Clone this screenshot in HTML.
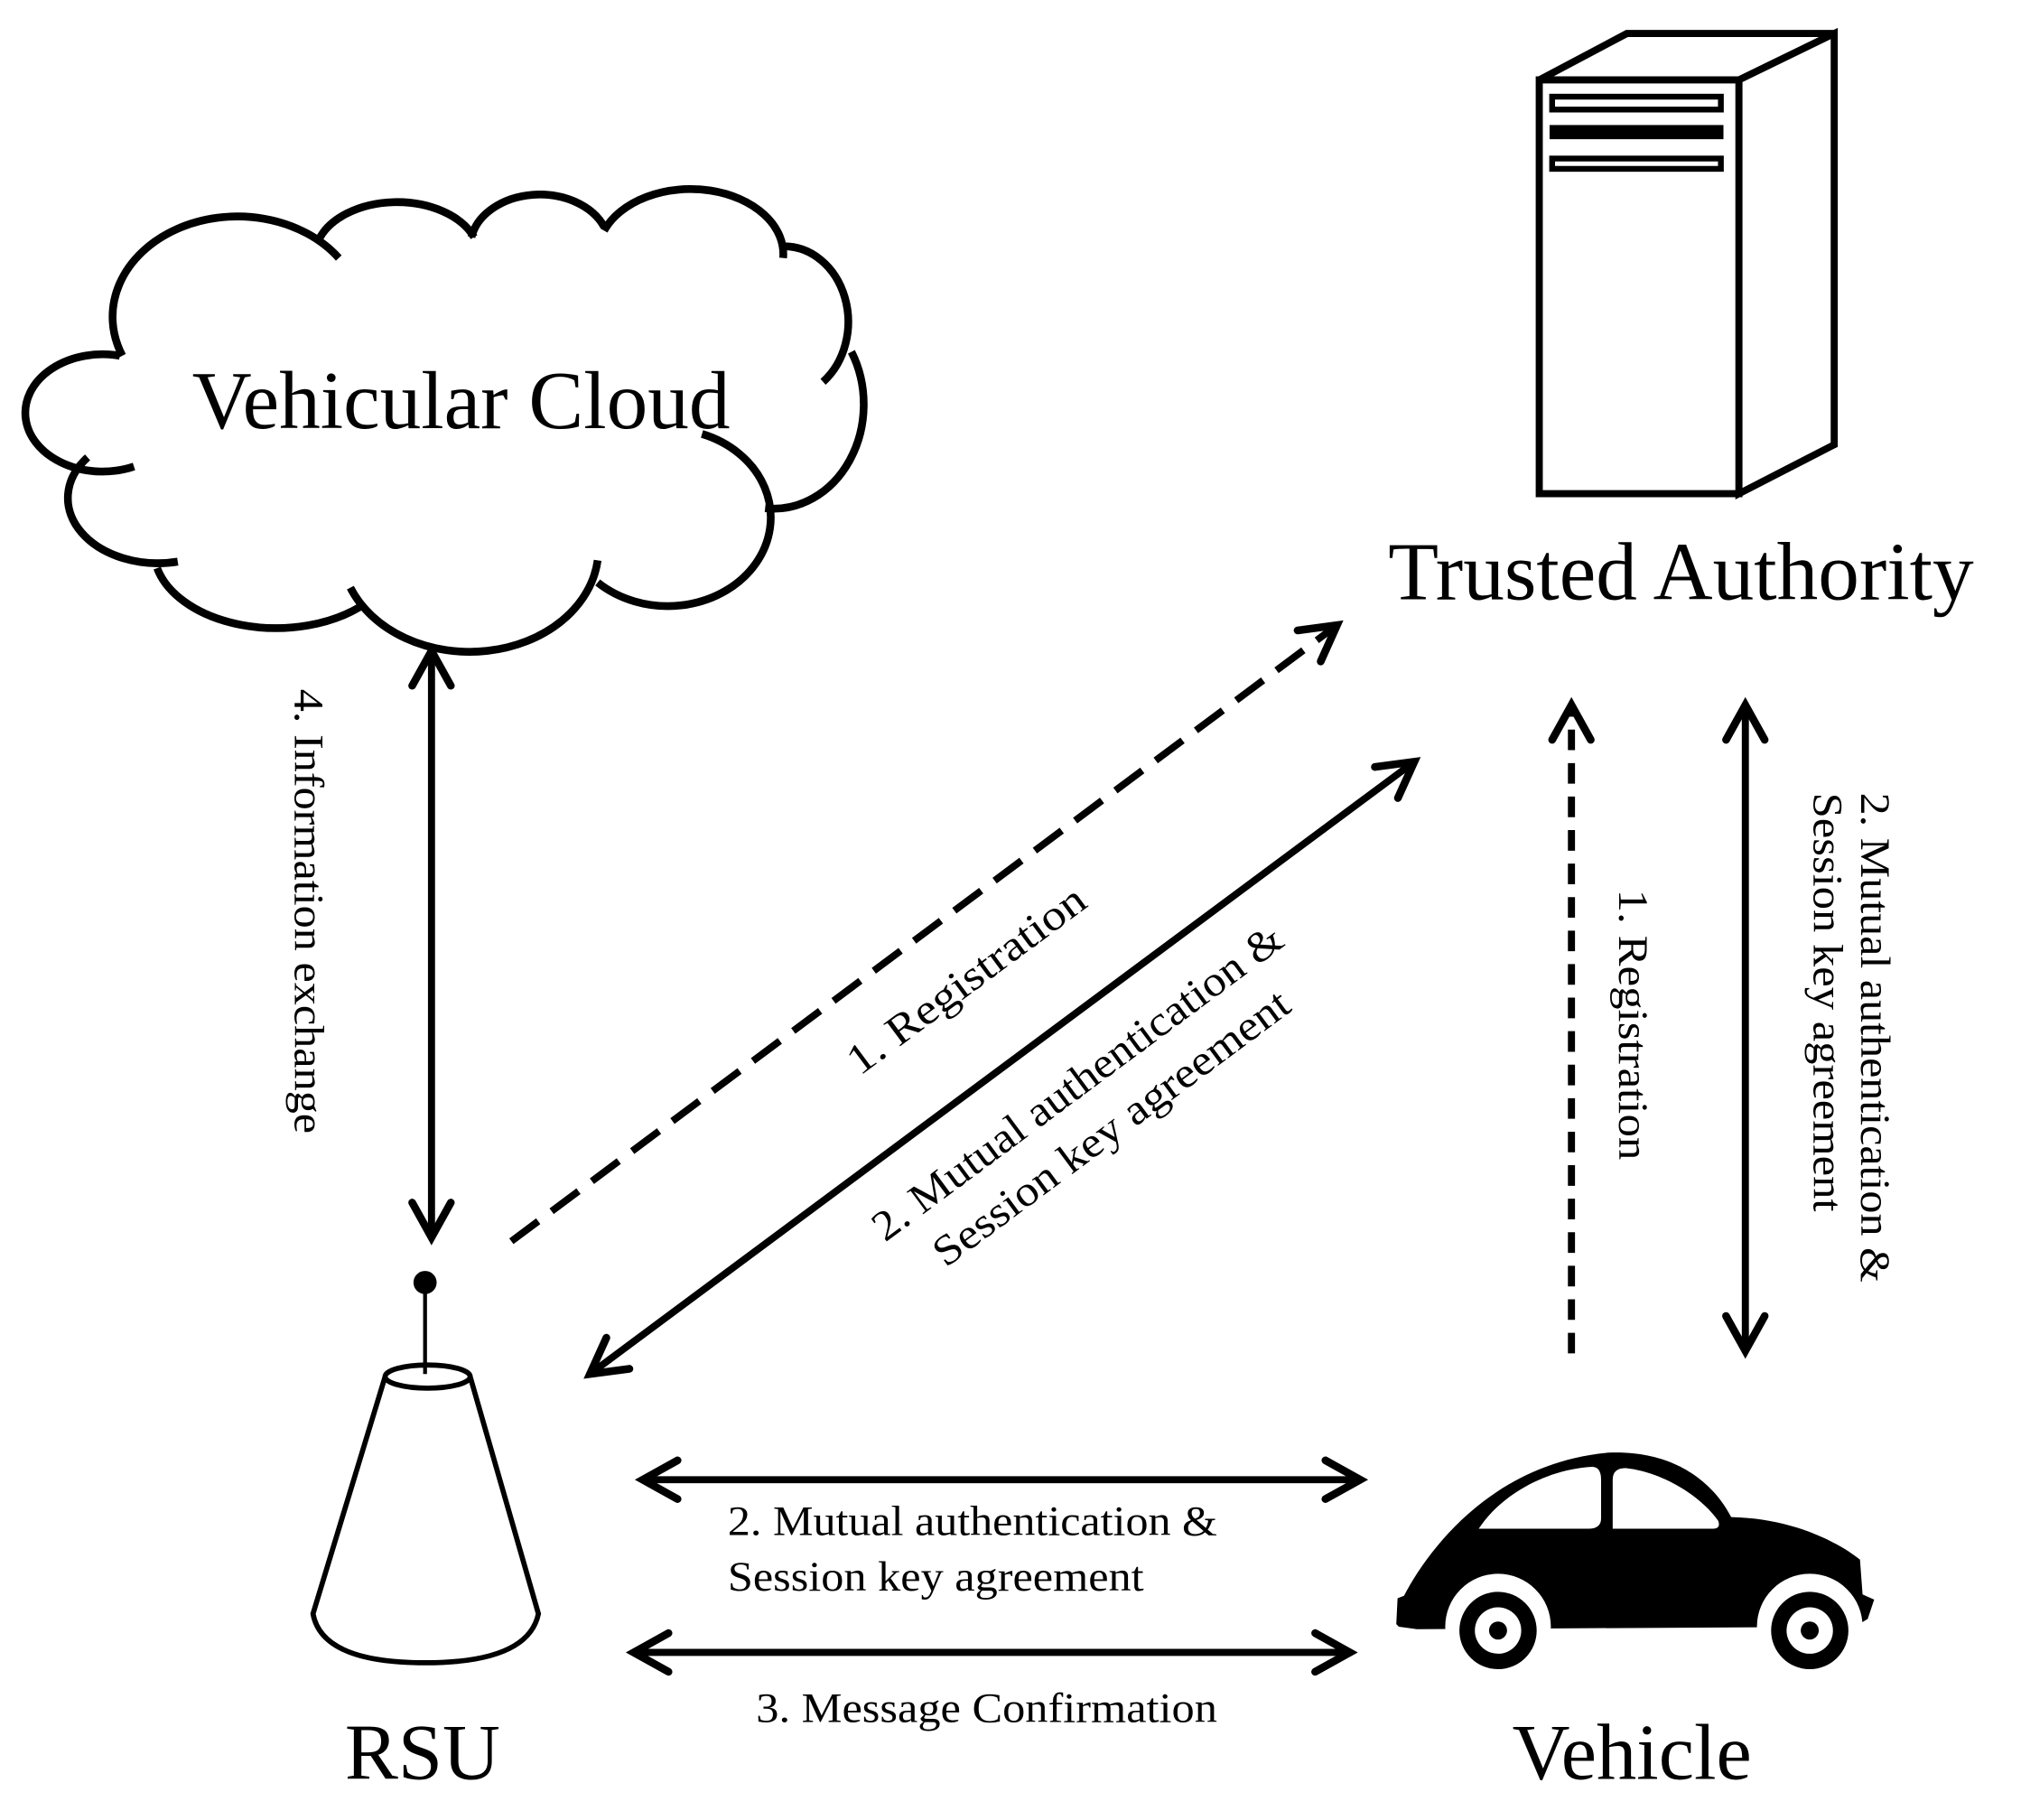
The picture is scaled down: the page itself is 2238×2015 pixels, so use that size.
<!DOCTYPE html>
<html><head><meta charset="utf-8"><style>
html,body{margin:0;padding:0;background:#fff;}
svg{display:block;}
text{font-family:"Liberation Serif",serif;fill:#000;}
</style></head><body>
<svg width="2238" height="2015" viewBox="0 0 1569 1412" preserveAspectRatio="none" xmlns="http://www.w3.org/2000/svg">
<defs>
<marker id="ah" viewBox="-40 -25 50 50" markerWidth="50" markerHeight="50" refX="0" refY="0" orient="auto-start-reverse" markerUnits="userSpaceOnUse">
<path d="M-27,-15 L0,0 L-27,15" fill="none" stroke="#000" stroke-width="6" stroke-linecap="round" stroke-linejoin="miter"/>
</marker>
</defs>

<!-- Cloud -->
<g fill="none" stroke="#000" stroke-width="6" transform="translate(8,1) scale(1,1.011)">
<path d="M87,272 A97,77 0 0 1 255,197"/>
<path d="M239,184 A64,42 0 0 1 360,181"/>
<path d="M358,181 A54,40 0 0 1 461,173"/>
<path d="M461,176 A72,50 0 0 1 600,197"/>
<path d="M600,188 A50,58 0 0 1 631,292"/>
<path d="M653,269 A70,80 0 0 1 586,389"/>
<path d="M537,332 A80,68 0 1 1 456,446"/>
<path d="M456,429 A100,79 0 0 1 264,450"/>
<path d="M271,465 A95,60 0 0 1 114,435"/>
<path d="M130,430 A70,50 0 0 1 60,350"/>
<path d="M96,357 A60,45 0 1 1 85,272"/>
</g>
<text x="358" y="332" font-size="64" text-anchor="middle">Vehicular Cloud</text>

<!-- Server -->
<g fill="#fff" stroke="#000" stroke-width="5.5" stroke-linejoin="miter">
<polygon points="1195,62 1263,26 1424,26 1350,62"/>
<polygon points="1350,62 1424,26 1424,345 1350,383"/>
<rect x="1195" y="62" width="155" height="321"/>
</g>
<rect x="1205" y="75" width="131" height="10" fill="#fff" stroke="#000" stroke-width="4.5"/>
<rect x="1203" y="97" width="135" height="11" fill="#000"/>
<rect x="1205" y="123" width="131" height="8" fill="#fff" stroke="#000" stroke-width="4.5"/>
<text x="1305" y="465" font-size="64" text-anchor="middle">Trusted Authority</text>

<!-- Arrows -->
<g stroke="#000" stroke-width="5.5" fill="none">
<line x1="335" y1="505" x2="335" y2="960" marker-start="url(#ah)" marker-end="url(#ah)"/>
<line x1="397" y1="963" x2="1038" y2="485" stroke-dasharray="26,13" marker-end="url(#ah)"/>
<line x1="458" y1="1066" x2="1098" y2="591" marker-start="url(#ah)" marker-end="url(#ah)"/>
<line x1="1220" y1="1050" x2="1220" y2="547" stroke-dasharray="16,10" marker-end="url(#ah)"/>
<line x1="1355" y1="547" x2="1355" y2="1048" marker-start="url(#ah)" marker-end="url(#ah)"/>
<line x1="499" y1="1148" x2="1056" y2="1148" marker-start="url(#ah)" marker-end="url(#ah)"/>
<line x1="492" y1="1282" x2="1048" y2="1282" marker-start="url(#ah)" marker-end="url(#ah)"/>
</g>

<!-- Labels -->
<g font-size="33">
<text transform="translate(240,707) rotate(90)" y="11" text-anchor="middle" textLength="345" lengthAdjust="spacingAndGlyphs">4. Information exchange</text>
<text transform="translate(750,760) rotate(-36.6)" y="11" text-anchor="middle" textLength="222" lengthAdjust="spacingAndGlyphs">1. Registration</text>
<g transform="translate(850,858) rotate(-36.6)" text-anchor="middle">
<text y="-12" textLength="388" lengthAdjust="spacingAndGlyphs">2. Mutual authentication &amp;</text>
<text y="32" textLength="336" lengthAdjust="spacingAndGlyphs">Session key agreement</text>
</g>
<text transform="translate(1268,795) rotate(90)" y="11" text-anchor="middle" textLength="210" lengthAdjust="spacingAndGlyphs">1. Registration</text>
<g transform="translate(1438,805) rotate(90)">
<text x="-190" y="-7" textLength="380" lengthAdjust="spacingAndGlyphs">2. Mutual authentication &amp;</text>
<text x="-190" y="30" textLength="325" lengthAdjust="spacingAndGlyphs">Session key agreement</text>
</g>
<text x="565" y="1191" textLength="380" lengthAdjust="spacingAndGlyphs">2. Mutual authentication &amp;</text>
<text x="565" y="1234" textLength="323" lengthAdjust="spacingAndGlyphs">Session key agreement</text>
<text x="587" y="1336" textLength="358" lengthAdjust="spacingAndGlyphs">3. Message Confirmation</text>
</g>

<!-- RSU -->
<circle cx="330" cy="995" r="9" fill="#000"/>
<line x1="330" y1="1000" x2="330" y2="1066" stroke="#000" stroke-width="3"/>
<g fill="none" stroke="#000" stroke-width="4">
<ellipse cx="332" cy="1068" rx="33" ry="9"/>
<path d="M299,1068 L243,1252 Q250,1290 330,1290 Q410,1290 418,1252 L365,1068"/>
</g>
<text x="328" y="1380" font-size="62" text-anchor="middle">RSU</text>

<!-- Vehicle -->
<path d="M1084,1260 L1085,1240 L1090,1238 C1110,1200 1160,1135 1249,1127 C1300,1125 1330,1150 1344,1177 C1390,1178 1425,1195 1444,1210 L1446,1237 L1455,1241 L1450,1256 L1440,1262 L1100,1264 L1086,1262 Z" fill="#000"/>
<path d="M1148,1186 C1165,1160 1200,1140 1236,1138 Q1243,1138 1243,1148 L1243,1178 Q1243,1186 1233,1186 Z" fill="#fff"/>
<path d="M1252,1186 L1252,1148 Q1252,1139 1262,1139 C1290,1142 1320,1160 1334,1180 Q1336,1186 1330,1186 Z" fill="#fff"/>
<circle cx="1163" cy="1262" r="41" fill="#fff"/>
<circle cx="1405" cy="1262" r="41" fill="#fff"/>
<circle cx="1163" cy="1265" r="30" fill="#000"/>
<circle cx="1163" cy="1265" r="18" fill="#fff"/>
<circle cx="1163" cy="1265" r="7" fill="#000"/>
<circle cx="1405" cy="1265" r="30" fill="#000"/>
<circle cx="1405" cy="1265" r="18" fill="#fff"/>
<circle cx="1405" cy="1265" r="7" fill="#000"/>
<text x="1267" y="1380" font-size="62" text-anchor="middle">Vehicle</text>
</svg>
</body></html>
